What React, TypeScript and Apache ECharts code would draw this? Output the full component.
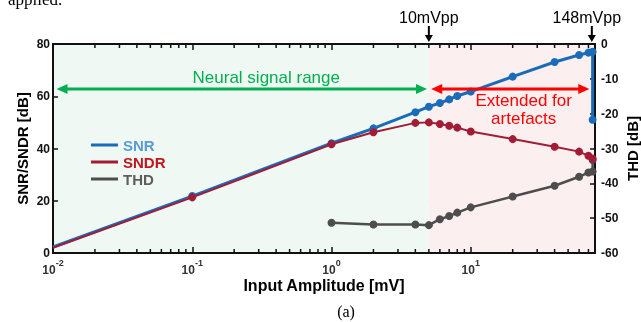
import React, { useEffect, useRef } from 'react';
import * as echarts from 'echarts';

// Input amplitude [mV] and measured values
const snrX = [0.01, 0.1, 1, 2, 4, 5, 6, 7, 8, 10, 20, 40, 60, 70, 75, 75];
const snrY = [2.3, 21.8, 42.0, 47.7, 53.9, 56.0, 57.4, 58.8, 60.1, 61.8, 67.5, 73.1, 75.8, 76.7, 77.0, 51.0];
const sndrX = [0.01, 0.1, 1, 2, 4, 5, 6, 7, 8, 10, 20, 40, 60, 70, 75];
const sndrY = [2.0, 21.3, 41.6, 46.2, 49.8, 50.0, 49.4, 48.7, 48.0, 46.5, 43.6, 40.7, 38.8, 37.2, 36.2];
const thdX = [1, 2, 4, 5, 6, 7, 8, 10, 20, 40, 60, 70, 75, 75];
const thdY = [-51.3, -51.8, -51.8, -52.0, -50.3, -49.4, -48.4, -46.9, -43.8, -40.7, -38.1, -36.9, -36.6, -33.3];
const noMarkerX = [0.01];

const minorTicks = [
  0.02, 0.03, 0.04, 0.05, 0.06, 0.07, 0.08, 0.09,
  0.2, 0.3, 0.4, 0.5, 0.6, 0.7, 0.8, 0.9,
  2, 3, 4, 5, 6, 7, 8, 9,
  20, 30, 40, 50, 60, 70,
];

const xMin = 0.01;
const xMax = 78;
const neuralRange = [0.0106, 4.85];
const extendedRange = [5.2, 71];
const regionSplit = 5;
const rangeArrowLevel = 62.8;
const marks = [
  { x: 5, label: '10mVpp', dx: 0 },
  { x: 74, label: '148mVpp', dx: -5 },
];

const FONT = 'Arial, "Liberation Sans", sans-serif';

const pts = (xs: number[], ys: number[]) =>
  xs.map((x, i) => ({
    value: [x, ys[i]],
    symbol: noMarkerX.includes(x) ? 'none' : 'circle',
  }));

export default function App() {
  const ref = useRef<HTMLDivElement>(null);
  useEffect(() => {
    if (!ref.current) return;
    const chart = echarts.init(ref.current, undefined, { renderer: 'svg' });
    const xLabel = (v: number) => {
      const l = Math.log10(v);
      const e = Math.round(l);
      if (Math.abs(l - e) > 1e-6) return '';
      return `{b|10}{s|${e}}`;
    };
    const option: any = {
      animation: false,
      textStyle: { fontFamily: FONT },
      grid: { left: 53, right: 46, top: 44, bottom: 69, outerBoundsMode: 'none', containLabel: false },
      legend: {
        orient: 'vertical',
        left: 86,
        top: 132,
        icon: 'rect',
        itemWidth: 27,
        itemHeight: 3,
        itemGap: 1,
        textStyle: { fontSize: 15, fontWeight: 'bold', lineHeight: 16, fontFamily: FONT },
        data: [
          { name: 'SNR', textStyle: { color: '#5b9bd5' } },
          { name: 'SNDR', textStyle: { color: '#c0161e' } },
          { name: 'THD', textStyle: { color: '#5e5e5e' } },
        ],
      },
      xAxis: [
        {
          type: 'log',
          logBase: 10,
          min: xMin,
          max: xMax,
          z: 1,
          name: 'Input Amplitude [mV]',
          nameLocation: 'middle',
          nameGap: 24,
          nameMoveOverlap: false,
          nameTextStyle: { fontSize: 16, fontWeight: 'bold', color: '#000', fontFamily: FONT },
          axisLine: { show: true, lineStyle: { color: '#111', width: 2 } },
          axisTick: { show: true, inside: true, length: 6, lineStyle: { color: '#111', width: 1.5 } },
          axisLabel: {
            formatter: xLabel,
            margin: 5,
            showMaxLabel: false,
            rich: {
              b: { fontSize: 12, fontWeight: 'bold', color: '#333', lineHeight: 18, verticalAlign: 'bottom', fontFamily: FONT },
              s: { fontSize: 9, fontWeight: 'bold', color: '#333', lineHeight: 9, verticalAlign: 'top', fontFamily: FONT },
            },
          },
          splitLine: { show: true, lineStyle: { color: '#c9c9c9', width: 1.5 } },
        },
        {
          type: 'log',
          logBase: 10,
          min: xMin,
          max: xMax,
          position: 'top',
          z: 1,
          axisLine: { show: true, lineStyle: { color: '#111', width: 2 } },
          axisTick: { show: true, inside: true, length: 6, lineStyle: { color: '#111', width: 1.5 } },
          axisLabel: { show: false },
          splitLine: { show: false },
        },
      ],
      yAxis: [
        {
          type: 'value',
          min: 0,
          max: 80,
          interval: 20,
          z: 1,
          name: 'SNR/SNDR [dB]',
          nameLocation: 'middle',
          nameGap: 23,
          nameMoveOverlap: false,
          nameTextStyle: { fontSize: 15, fontWeight: 'bold', color: '#000', fontFamily: FONT },
          axisLine: { show: true, lineStyle: { color: '#111', width: 2 } },
          axisTick: { show: true, inside: true, length: 5, lineStyle: { color: '#111', width: 1.5 } },
          axisLabel: { fontSize: 12, fontWeight: 'bold', color: '#111', margin: 3, fontFamily: FONT },
          splitLine: { show: true, lineStyle: { color: '#c9c9c9', width: 1.5 } },
        },
        {
          type: 'value',
          min: -60,
          max: 0,
          interval: 10,
          position: 'right',
          z: 1,
          name: 'THD [dB]',
          nameLocation: 'middle',
          nameGap: 30,
          nameMoveOverlap: false,
          nameRotate: 90,
          nameTextStyle: { fontSize: 15, fontWeight: 'bold', color: '#000', fontFamily: FONT },
          axisLine: { show: true, lineStyle: { color: '#111', width: 2 } },
          axisTick: { show: true, inside: true, length: 5, lineStyle: { color: '#111', width: 1.5 } },
          axisLabel: { fontSize: 12, fontWeight: 'bold', color: '#111', margin: 6, fontFamily: FONT },
          splitLine: { show: false },
        },
      ],
      series: [
        {
          name: 'bg',
          type: 'line',
          data: [],
          z: 0,
          silent: true,
          markArea: {
            silent: true,
            itemStyle: { borderWidth: 0 },
            data: [
              [{ xAxis: xMin, itemStyle: { color: '#eff8f3' } }, { xAxis: regionSplit }],
              [{ xAxis: regionSplit, itemStyle: { color: '#fcefef' } }, { xAxis: xMax }],
            ],
          },
        },
        {
          name: 'ticks',
          type: 'custom',
          z: 3,
          silent: true,
          clip: false,
          data: minorTicks.map((v) => [v, 0]),
          renderItem: (params: any, api: any) => {
            const v = api.value(0);
            const pb = api.coord([v, 0]);
            const pt = api.coord([v, 80]);
            return {
              type: 'group',
              children: [
                { type: 'line', shape: { x1: pb[0], y1: pb[1], x2: pb[0], y2: pb[1] - 4 }, style: { stroke: '#111', lineWidth: 1.5 } },
                { type: 'line', shape: { x1: pt[0], y1: pt[1], x2: pt[0], y2: pt[1] + 4 }, style: { stroke: '#111', lineWidth: 1.5 } },
              ],
            };
          },
        },
        {
          name: 'THD',
          type: 'line',
          yAxisIndex: 1,
          data: pts(thdX, thdY),
          color: '#4d4d4d',
          symbolSize: 8,
          lineStyle: { width: 2.5, color: '#4d4d4d' },
          itemStyle: { color: '#4d4d4d' },
        },
        {
          name: 'SNR',
          type: 'line',
          data: pts(snrX, snrY),
          color: '#1a6bb8',
          symbolSize: 8,
          lineStyle: { width: 3, color: '#1a6bb8' },
          itemStyle: { color: '#1a6bb8' },
        },
        {
          name: 'SNDR',
          type: 'line',
          data: pts(sndrX, sndrY),
          color: '#a31c35',
          symbolSize: 8,
          lineStyle: { width: 2, color: '#a31c35' },
          itemStyle: { color: '#a31c35' },
        },
      ],
    };
    chart.setOption(option);

    const xp = (v: number) => chart.convertToPixel({ xAxisIndex: 0 }, v) as number;
    const yp = (v: number) => chart.convertToPixel({ yAxisIndex: 0 }, v) as number;
    const graphics: any[] = [];
    const head = (x: number, y: number, dir: number, color: string) => ({
      type: 'polygon',
      shape: { points: [[x, y], [x - dir * 11, y - 5], [x - dir * 11, y + 5]] },
      style: { fill: color },
      z: 10,
    });
    const dblArrow = (x1: number, x2: number, y: number, color: string) => {
      graphics.push({ type: 'line', shape: { x1: x1 + 6, y1: y, x2: x2 - 6, y2: y }, style: { stroke: color, lineWidth: 3 }, z: 10 });
      graphics.push(head(x1, y, -1, color));
      graphics.push(head(x2, y, 1, color));
    };
    const ay = yp(rangeArrowLevel);
    dblArrow(xp(neuralRange[0]), xp(neuralRange[1]), ay, '#00b050');
    dblArrow(xp(extendedRange[0]), xp(extendedRange[1]), ay, '#ff0000');
    graphics.push({
      type: 'text', x: xp(0.34), y: yp(67.3), z: 10,
      style: { text: 'Neural signal range', fill: '#00b050', font: `17px ${FONT}`, align: 'center', verticalAlign: 'middle' },
    });
    graphics.push({
      type: 'text', x: xp(24), y: yp(55.1), z: 10,
      style: { text: 'Extended for\nartefacts', fill: '#ff0000', font: `17px ${FONT}`, align: 'center', verticalAlign: 'middle', lineHeight: 18 },
    });
    const top = yp(80);
    marks.forEach((m) => {
      const x = xp(m.x);
      graphics.push({
        type: 'text', x: x + m.dx, y: top - 27, z: 10,
        style: { text: m.label, fill: '#000', font: `16px ${FONT}`, align: 'center', verticalAlign: 'middle' },
      });
      graphics.push({ type: 'line', shape: { x1: x, y1: top - 18, x2: x, y2: top - 8 }, style: { stroke: '#000', lineWidth: 2 }, z: 10 });
      graphics.push({ type: 'polygon', shape: { points: [[x - 4, top - 9], [x + 4, top - 9], [x, top - 2]] }, style: { fill: '#000' }, z: 10 });
    });
    graphics.push({
      type: 'text', x: 346, y: 311, z: 10,
      style: { text: '(a)', fill: '#000', font: '16px "Liberation Serif", "Times New Roman", serif', align: 'center', verticalAlign: 'middle' },
    });
    graphics.push({
      type: 'text', x: 8, y: -9, z: 10,
      style: { text: 'applied.', fill: '#000', font: '17px "Liberation Serif", "Times New Roman", serif', align: 'left', verticalAlign: 'top' },
    });
    chart.setOption({ graphic: graphics });

    return () => chart.dispose();
  }, []);
  return <div ref={ref} style={{ position: 'fixed', left: 0, top: 0, width: 641, height: 322 }} />;
}
